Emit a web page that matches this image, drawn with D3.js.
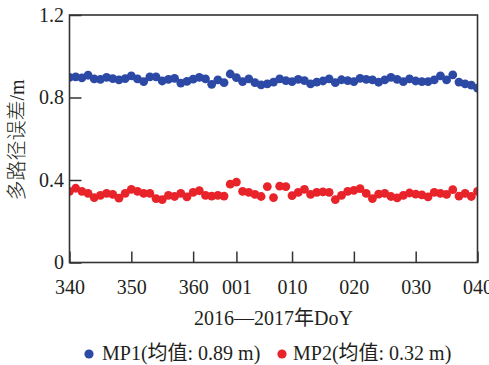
<!DOCTYPE html>
<html><head><meta charset="utf-8">
<script src="https://cdn.jsdelivr.net/npm/d3@7"></script>
<style>
html,body{margin:0;padding:0;background:#fff;}
svg{display:block;}
text{font-family:"Liberation Serif","Noto Sans CJK SC",serif;fill:#231f20;}
</style></head>
<body>
<svg id="chart" width="489" height="365"></svg>
<script>
// Day-of-year categories (2016 leap year: 340..366, then 2017: 1..40)
const doy = [340,341,342,343,344,345,346,347,348,349,350,351,352,353,354,355,356,357,358,359,360,
  361,362,363,364,365,366,1,2,3,4,5,6,7,8,9,10,11,12,13,14,15,16,17,18,19,20,
  21,22,23,24,25,26,27,28,29,30,31,32,33,34,35,36,37,38,39,40];
const mp1 = [0.898,0.900,0.895,0.908,0.890,0.888,0.898,0.892,0.885,0.892,0.905,0.890,0.877,0.900,
  0.900,0.880,0.888,0.893,0.870,0.878,0.889,0.898,0.890,0.864,0.885,0.872,0.914,0.896,0.877,0.890,
  0.872,0.861,0.866,0.875,0.890,0.882,0.877,0.888,0.882,0.866,0.875,0.880,0.890,0.872,0.886,0.882,
  0.877,0.893,0.888,0.885,0.874,0.885,0.898,0.888,0.877,0.890,0.880,0.877,0.877,0.885,0.905,0.885,
  0.910,0.875,0.866,0.860,0.845];
const mp2 = [0.345,0.360,0.345,0.335,0.315,0.325,0.335,0.330,0.312,0.335,0.355,0.345,0.335,0.335,
  0.310,0.305,0.325,0.320,0.335,0.318,0.340,0.348,0.325,0.322,0.325,0.322,0.380,0.390,0.345,0.340,
  0.330,0.320,0.368,0.315,0.370,0.368,0.324,0.340,0.355,0.330,0.340,0.342,0.340,0.305,0.325,0.345,
  0.350,0.358,0.335,0.310,0.332,0.335,0.320,0.313,0.325,0.337,0.332,0.328,0.318,0.340,0.335,0.330,
  0.353,0.322,0.335,0.320,0.345];
const tickDays = [340,350,360,1,10,20,30,40];
const tickLabels = ["340","350","360","001","010","020","030","040"];
const yTicks = [0,0.4,0.8,1.2];
const yTickLabels = ["0","0.4","0.8","1.2"];
const seriesNames = ["MP1(均值: 0.89 m)","MP2(均值: 0.32 m)"];
const colors = ["#2b49a5","#e8232a"];

const cont = d => d < 340 ? d + 366 : d;

const svg = d3.select("#chart");
const L = 69.5, R = 477.5, T = 15, B = 262.5;
const x = d3.scaleLinear().domain([340, 406]).range([L, R]);
const y = d3.scaleLinear().domain([0, 1.2]).range([B, T]);

svg.append("defs").append("clipPath").attr("id","clip")
  .append("rect").attr("x",L).attr("y",T).attr("width",R-L).attr("height",B-T);

const g = svg.append("g").attr("clip-path","url(#clip)");
[mp1, mp2].forEach((s, k) => {
  g.selectAll(null).data(s.map((v,i)=>({d:doy[i], v}))).enter().append("circle")
    .attr("cx", p => x(cont(p.d)))
    .attr("cy", p => y(p.v))
    .attr("r", 4.4)
    .attr("fill", colors[k]);
});

// axes (inward ticks)
const xAxis = d3.axisBottom(x).tickValues(tickDays.map(cont))
  .tickFormat((d,i)=>tickLabels[i]).tickSizeInner(-11).tickSizeOuter(0).tickPadding(17);
const yAxis = d3.axisLeft(y).tickValues(yTicks)
  .tickFormat((d,i)=>yTickLabels[i]).tickSizeInner(-12).tickSizeOuter(0).tickPadding(18);

const gx = svg.append("g").attr("transform",`translate(0,${B})`).call(xAxis);
const gy = svg.append("g").attr("transform",`translate(${L},0)`).call(yAxis);
[gx, gy].forEach(a => {
  a.select(".domain").remove();
  a.selectAll("line").attr("stroke","#333").attr("stroke-width",1.5);
  a.selectAll("text").attr("font-size",20).style("fill","#231f20")
   .attr("font-family",'"Liberation Serif",serif');
});
gy.selectAll("text").attr("dx", 12.5);

// frame
svg.append("rect").attr("x",L).attr("y",T).attr("width",R-L).attr("height",B-T)
  .attr("fill","none").attr("stroke","#333").attr("stroke-width",1.6);

// axis titles
svg.append("text").attr("x",(L+R)/2).attr("y",325).attr("text-anchor","middle")
  .attr("font-size",20).text("2016—2017年DoY");
svg.append("text").attr("transform","translate(24,140) rotate(-90)")
  .attr("text-anchor","middle").attr("font-size",20).attr("font-weight",300)
  .text("多路径误差/m");

// legend
const leg = [{cx:89, tx:102},{cx:282, tx:293}];
leg.forEach((p,k)=>{
  svg.append("circle").attr("cx",p.cx).attr("cy",354).attr("r",4.6).attr("fill",colors[k]);
  svg.append("text").attr("x",p.tx).attr("y",360).attr("font-size",20).text(seriesNames[k]);
});
</script>
</body></html>
